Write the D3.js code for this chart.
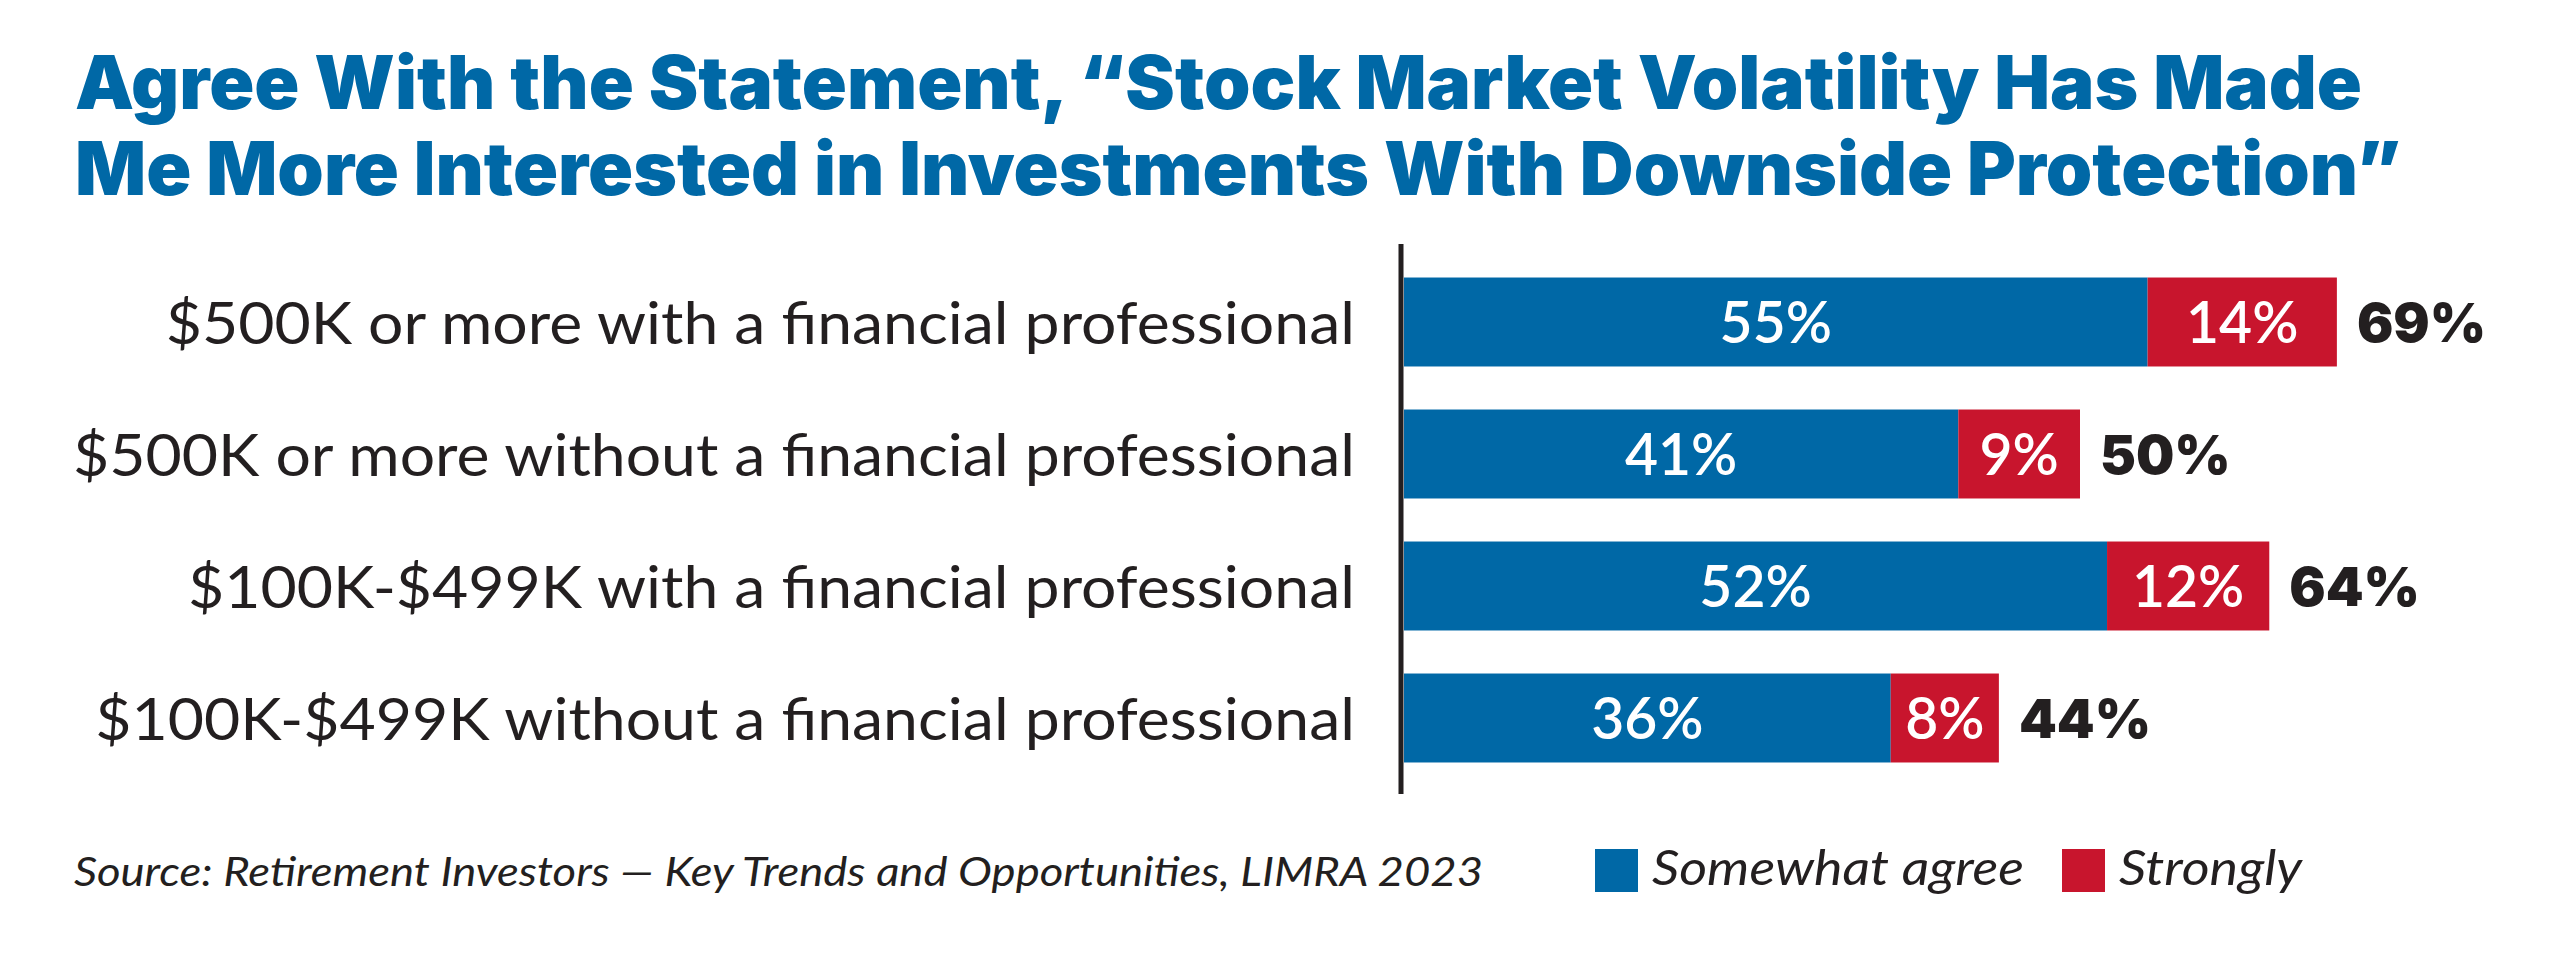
<!DOCTYPE html>
<html><head><meta charset="utf-8">
<script src="https://cdn.jsdelivr.net/npm/d3@7"></script>
<style>html,body{margin:0;padding:0;background:#fff;}svg{display:block;}</style>
</head><body>
<svg id="chart" width="2560" height="953"></svg>
<script>
const titleLines = ["Agree With the Statement, \u201cStock Market Volatility Has Made",
                    "Me More Interested in Investments With Downside Protection\u201d"];
const categories = ["$500K or more with a financial professional",
                    "$500K or more without a financial professional",
                    "$100K-$499K with a financial professional",
                    "$100K-$499K without a financial professional"];
const somewhat = [55, 41, 52, 36];
const strongly = [14, 9, 12, 8];
const seriesNames = ["Somewhat agree", "Strongly"];
const sourceText = "Source: Retirement Investors \u2014 Key Trends and Opportunities, LIMRA 2023";

const BLUE = "#0068a6", RED = "#c8152d", DARK = "#231f20";
const svg = d3.select("#chart");

// Title
const title = svg.append("g");
const titleSize = 74;
titleLines.forEach((t, i) => {
  title.append("text").attr("x", 75).attr("y", 109 + i * 86)
    .attr("font-family", "Inter, 'Open Sans', sans-serif").attr("font-weight", 900)
    .attr("font-size", titleSize).attr("fill", BLUE).text(t);
});
const tNodes = title.selectAll("text").nodes();
const tFactor = 2287 / tNodes[0].getComputedTextLength();
tNodes.forEach(n => d3.select(n).attr("textLength", n.getComputedTextLength() * tFactor).attr("lengthAdjust", "spacingAndGlyphs"));

// Scales
const x = d3.scaleLinear().domain([0, 100]).range([1404, 1404 + 1352]);
const y = d3.scaleBand().domain(categories).range([256, 784]).paddingInner(0.326).paddingOuter(0.163);

const data = categories.map((c, i) => ({cat: c, a: somewhat[i], b: strongly[i], t: somewhat[i] + strongly[i]}));

// Bars
const g = svg.append("g");
g.selectAll("rect.a").data(data).join("rect").attr("class", "a")
  .attr("x", x(0)).attr("y", d => y(d.cat)).attr("height", y.bandwidth())
  .attr("width", d => x(d.a) - x(0)).attr("fill", BLUE);
g.selectAll("rect.b").data(data).join("rect").attr("class", "b")
  .attr("x", d => x(d.a)).attr("y", d => y(d.cat)).attr("height", y.bandwidth())
  .attr("width", d => x(d.a + d.b) - x(d.a)).attr("fill", RED);

// Axis line
svg.append("line").attr("x1", 1401).attr("x2", 1401).attr("y1", 244).attr("y2", 794)
  .attr("stroke", DARK).attr("stroke-width", 5);

// Category labels
const labSize = 58;
const labs = svg.append("g").selectAll("text").data(data).join("text")
  .attr("x", 1355).attr("y", d => y(d.cat) + y.bandwidth() / 2 + 0.72 * labSize / 2 + 1)
  .attr("text-anchor", "end").attr("font-family", "Lato, 'Open Sans', sans-serif").attr("font-weight", 400)
  .attr("font-size", labSize).attr("fill", DARK).text(d => d.cat);
const lNodes = labs.nodes();
const lFactor = 1282 / lNodes[1].getComputedTextLength();
lNodes.forEach(n => d3.select(n).attr("textLength", n.getComputedTextLength() * lFactor).attr("lengthAdjust", "spacingAndGlyphs"));

// Value labels
const vSize = 57;
const vy = d => y(d.cat) + y.bandwidth() / 2 + 0.72 * vSize / 2;
g.selectAll("text.va").data(data).join("text").attr("class", "va")
  .attr("x", d => (x(0) + x(d.a)) / 2).attr("y", vy).attr("text-anchor", "middle")
  .attr("font-family", "Lato, sans-serif").attr("font-weight", 600).attr("font-size", vSize)
  .attr("fill", "#fff").text(d => d.a + "%");
g.selectAll("text.vb").data(data).join("text").attr("class", "vb")
  .attr("x", d => (x(d.a) + x(d.a + d.b)) / 2).attr("y", vy).attr("text-anchor", "middle")
  .attr("font-family", "Lato, sans-serif").attr("font-weight", 600).attr("font-size", vSize)
  .attr("fill", "#fff").text(d => d.b + "%");
const tSize = 54;
g.selectAll("text.vt").data(data).join("text").attr("class", "vt")
  .attr("x", d => x(d.t) + 20).attr("y", d => y(d.cat) + y.bandwidth() / 2 + 0.73 * tSize / 2)
  .attr("text-anchor", "start")
  .attr("font-family", "Inter, sans-serif").attr("font-weight", 900).attr("font-size", tSize)
  .attr("fill", DARK).text(d => d.t + "%");

// Source
const src = svg.append("text").attr("x", 74).attr("y", 886)
  .attr("font-family", "Lato, 'Open Sans', sans-serif").attr("font-style", "italic").attr("font-weight", 400)
  .attr("font-size", 41).attr("fill", DARK).text(sourceText);
src.attr("textLength", 1409).attr("lengthAdjust", "spacingAndGlyphs");

// Legend
const legColors = [BLUE, RED];
const legSize = 49;
const legG = svg.append("g");
const legItems = seriesNames.map((name, i) => {
  const r = legG.append("rect").attr("y", 849).attr("width", 43).attr("height", 43).attr("fill", legColors[i]);
  const t = legG.append("text").attr("y", 885)
    .attr("font-family", "Lato, 'Open Sans', sans-serif").attr("font-style", "italic").attr("font-weight", 400)
    .attr("font-size", legSize).attr("fill", DARK).text(name);
  return {r, t};
});
const legFactor = 372 / legItems[0].t.node().getComputedTextLength();
let lx = 1595;
legItems.forEach(({r, t}) => {
  r.attr("x", lx);
  const w = t.node().getComputedTextLength() * legFactor;
  t.attr("x", lx + 57).attr("textLength", w).attr("lengthAdjust", "spacingAndGlyphs");
  lx = lx + 57 + w + 38;
});
</script>
</body></html>
